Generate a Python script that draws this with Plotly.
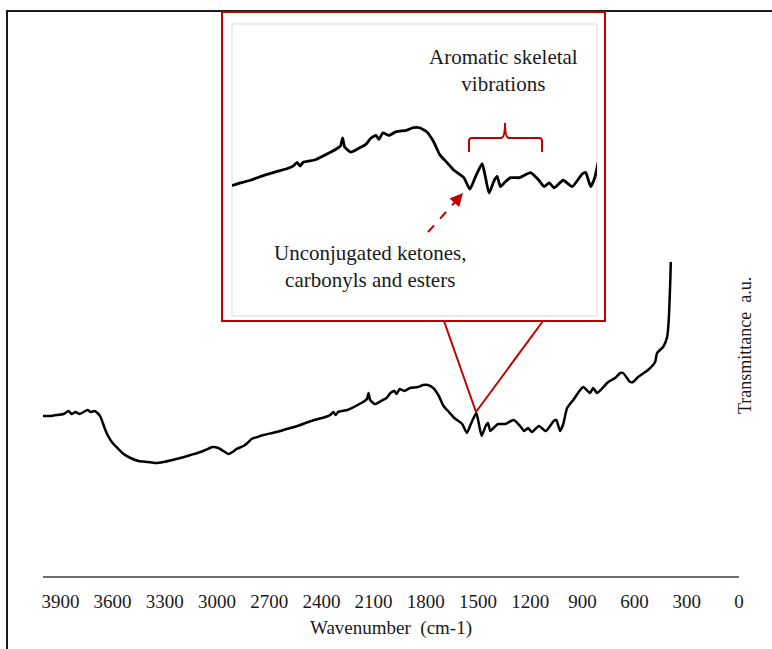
import plotly.graph_objects as go

# ---- data ----
wavenumber = [4000, 3956, 3916, 3882, 3853, 3836, 3813, 3790, 3767, 3744, 3727, 3704, 3687, 3669,
              3646, 3629, 3600, 3572, 3537, 3497, 3451, 3399, 3353, 3307, 3256, 3210, 3153, 3112,
              3066, 3026, 2992, 2963, 2934, 2911, 2888, 2848, 2825, 2802, 2768, 2733, 2682, 2636,
              2600, 2538, 2475, 2420, 2377, 2349, 2331, 2318, 2304, 2250, 2192, 2152, 2138, 2129,
              2120, 2093, 2057, 2026, 2003, 1981, 1968, 1950, 1923, 1891, 1846, 1815, 1788, 1757,
              1725, 1698, 1667, 1636, 1591, 1564, 1541, 1510, 1497, 1479, 1456, 1443, 1429, 1411,
              1384, 1344, 1295, 1258, 1235, 1212, 1190, 1150, 1110, 1065, 1050, 1028, 1010, 988,
              953, 896, 856, 838, 815, 752, 712, 683, 666, 626, 609, 580, 523, 482, 471, 436,
              413, 404, 398, 394, 392]
transmittance = [160, 160, 161, 162, 165, 162, 164, 162, 164, 166, 164, 165, 163, 159,
                 148, 141, 133, 128, 122, 118, 115, 114, 113, 114, 116, 118, 121, 123,
                 126, 129, 128, 125, 122, 124, 127, 130, 133, 137, 139, 141, 143, 145,
                 147, 150, 154, 157, 159, 161, 164, 161, 164, 166, 171, 175, 177, 183,
                 176, 172, 175, 178, 183, 185, 182, 187, 185, 188, 189, 191, 191, 188,
                 180, 170, 164, 158, 152, 143, 152, 163, 154, 140, 150, 153, 145, 148,
                 152, 152, 156, 150, 145, 148, 144, 150, 145, 155, 156, 145, 152, 168,
                 176, 189, 183, 188, 183, 194, 198, 203, 203, 194, 194, 199, 206, 214, 223, 229,
                 239, 255, 280, 300, 314]

tick_values = [3900, 3600, 3300, 3000, 2700, 2400, 2100, 1800, 1500, 1200, 900, 600, 300, 0]
tick_labels = [str(v) for v in tick_values]

# ---- layout geometry ----
W, H = 772, 649
L, R, T, B = 43, 739, 12, 576
RED = "#C00000"
FONT = "Liberation Serif"
TXT = "#1a1a1a"


def fx(x):
    return (x - L) / (R - L)


def fy(y):
    return (B - y) / (B - T)


fig = go.Figure()
fig.add_trace(go.Scatter(x=wavenumber, y=transmittance, mode="lines",
                         line=dict(color="black", width=2.5, shape="spline", smoothing=0.5),
                         xaxis="x", yaxis="y", showlegend=False, hoverinfo="skip"))
fig.add_trace(go.Scatter(x=wavenumber, y=transmittance, mode="lines",
                         line=dict(color="black", width=2.8, shape="spline", smoothing=0.5),
                         xaxis="x2", yaxis="y2", showlegend=False, hoverinfo="skip"))

shapes = [
    # outer frame
    dict(type="rect", xref="paper", yref="paper", x0=fx(7), y0=fy(11), x1=fx(800), y1=fy(700),
         line=dict(color="#1a1a1a", width=2), layer="below"),
    # inset red box
    dict(type="rect", xref="paper", yref="paper", x0=fx(222), y0=fy(12), x1=fx(605), y1=fy(321),
         line=dict(color=RED, width=2), fillcolor="white", layer="below"),
    # inset inner grey border
    dict(type="rect", xref="paper", yref="paper", x0=fx(232), y0=fy(24), x1=fx(597), y1=fy(316),
         line=dict(color="#d9d9d9", width=1), layer="below"),
    # connector lines
    dict(type="path", xref="paper", yref="paper",
         path=f"M {fx(444)},{fy(321)} L {fx(476)},{fy(412)} L {fx(543)},{fy(321)}",
         line=dict(color=RED, width=2)),
    # brace
    dict(type="path", xref="paper", yref="paper",
         path=(f"M {fx(469)},{fy(152)} L {fx(469)},{fy(141)} Q {fx(469)},{fy(138)} {fx(472)},{fy(138)} "
               f"L {fx(501)},{fy(138)} Q {fx(505)},{fy(138)} {fx(505)},{fy(123)} "
               f"Q {fx(505)},{fy(138)} {fx(509)},{fy(138)} L {fx(539)},{fy(138)} "
               f"Q {fx(542)},{fy(138)} {fx(542)},{fy(141)} L {fx(542)},{fy(152)}"),
         line=dict(color=RED, width=2)),
    # dashed arrow shaft
    dict(type="line", xref="paper", yref="paper", x0=fx(428), y0=fy(232), x1=fx(456), y1=fy(201),
         line=dict(color=RED, width=2, dash="dash")),
]

annotations = [
    dict(xref="paper", yref="paper", x=fx(463), y=fy(193), ax=-8, ay=9, axref="pixel", ayref="pixel",
         text="", showarrow=True, arrowhead=2, arrowsize=1.3, arrowwidth=2, arrowcolor=RED),
    dict(xref="paper", yref="paper", x=fx(503), y=fy(71), xanchor="center", yanchor="middle",
         text="Aromatic skeletal<br>vibrations",
         showarrow=False, font=dict(family=FONT, size=21, color=TXT), align="center"),
    dict(xref="paper", yref="paper", x=fx(370), y=fy(266), xanchor="center", yanchor="middle",
         text="Unconjugated ketones,<br>carbonyls and esters",
         showarrow=False, font=dict(family=FONT, size=21, color=TXT), align="center"),
    dict(xref="paper", yref="paper", x=fx(745), y=fy(346), xanchor="center", yanchor="middle",
         text="Transmittance  a.u.",
         textangle=-90, showarrow=False, font=dict(family=FONT, size=18, color=TXT)),
]

fig.update_layout(
    width=W, height=H,
    margin=dict(l=L, r=W - R, t=T, b=H - B),
    paper_bgcolor="white", plot_bgcolor="rgba(0,0,0,0)",
    shapes=shapes, annotations=annotations,
    xaxis=dict(range=[4000, 0], tickvals=tick_values, ticktext=tick_labels, showgrid=False,
               zeroline=False, showline=True, linecolor="#6e6e6e", linewidth=2, ticks="",
               ticklabelstandoff=7,
               tickfont=dict(family=FONT, size=19, color=TXT),
               title=dict(text="Wavenumber  (cm-1)", font=dict(family=FONT, size=19, color=TXT),
                          standoff=10)),
    yaxis=dict(range=[0, B - T], visible=False),
    xaxis2=dict(domain=[fx(232), fx(597)], range=[2620, 1000], visible=False, anchor="y2"),
    yaxis2=dict(domain=[fy(316), fy(24)], range=[44, 272], visible=False, anchor="x2"),
    font=dict(family=FONT),
)

fig.write_html("out.html")
